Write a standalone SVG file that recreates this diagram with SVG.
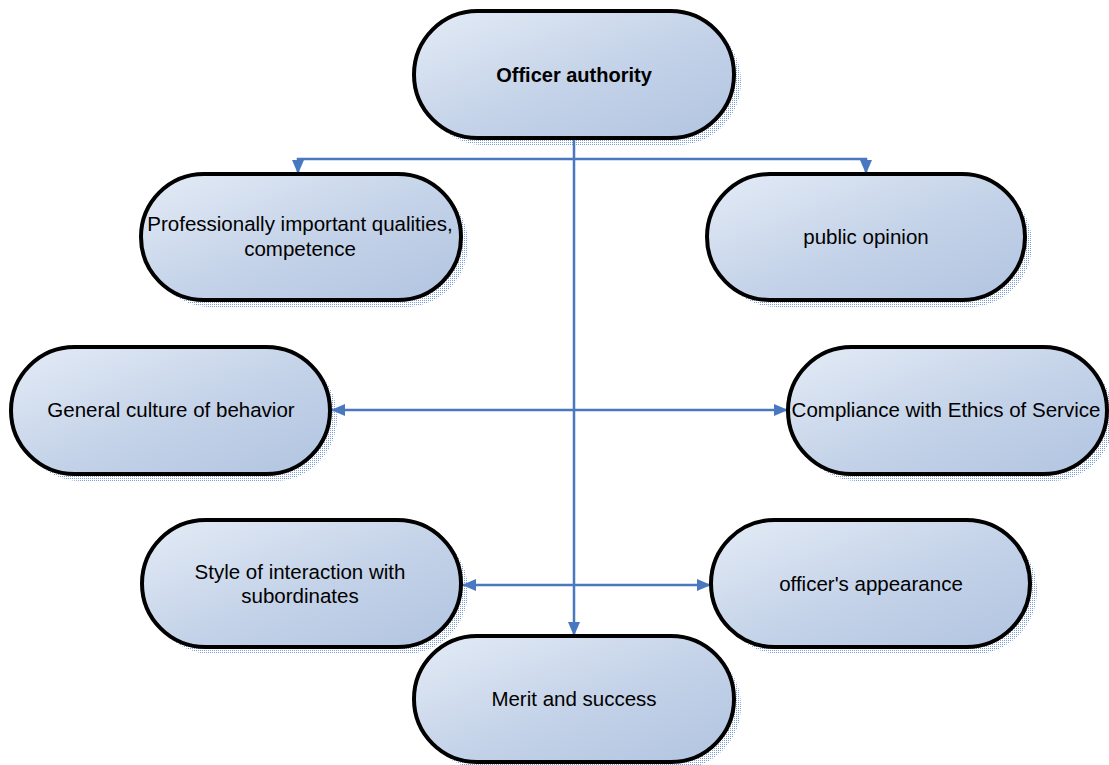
<svg xmlns="http://www.w3.org/2000/svg" width="1109" height="765" viewBox="0 0 1109 765">
<style>
.node{fill:url(#g);stroke:#000;stroke-width:4}
.sh{fill:url(#dots)}
.t{font-family:"Liberation Sans",Arial,sans-serif;font-size:20.5px;fill:#000;text-anchor:middle}
.b{font-weight:bold;font-size:20px}
.c{fill:none;stroke:#4a78c0;stroke-width:2.5}
</style>
<defs>
<linearGradient id="g" x1="0" y1="0" x2="1" y2="1">
<stop offset="0" stop-color="#e4ebf6"/>
<stop offset="0.55" stop-color="#c3d2e8"/>
<stop offset="1" stop-color="#b2c4e1"/>
</linearGradient>
<pattern id="dots" width="2" height="2" patternUnits="userSpaceOnUse">
<rect x="0" y="0" width="1" height="1" fill="#7f9dd2"/>
</pattern>
<marker id="a" markerUnits="userSpaceOnUse" markerWidth="14" markerHeight="12" refX="14" refY="6" orient="auto">
<path d="M0,0 L14,6 L0,12 z" fill="#4a78c0"/>
</marker>
</defs>
<g id="shadows">
<rect class="sh" x="421" y="18" width="320" height="127" rx="63.5"/>
<rect class="sh" x="148" y="181" width="320" height="126" rx="63"/>
<rect class="sh" x="714" y="181" width="318" height="126" rx="63"/>
<rect class="sh" x="18" y="354" width="319" height="127" rx="63.5"/>
<rect class="sh" x="795" y="354" width="319" height="127" rx="63.5"/>
<rect class="sh" x="149" y="527" width="319" height="127" rx="63.5"/>
<rect class="sh" x="718" y="527" width="319" height="127" rx="63.5"/>
<rect class="sh" x="421" y="643" width="320" height="126" rx="63"/>
</g>
<g id="connectors">
<path class="c" d="M574,138 V636" marker-end="url(#a)"/>
<path class="c" d="M574,159 H298 V174" marker-end="url(#a)"/>
<path class="c" d="M574,159 H866 V174" marker-end="url(#a)"/>
<path class="c" d="M574,410 H331" marker-end="url(#a)"/>
<path class="c" d="M574,410 H788" marker-end="url(#a)"/>
<path class="c" d="M574,585 H462" marker-end="url(#a)"/>
<path class="c" d="M574,585 H711" marker-end="url(#a)"/>
</g>
<g id="officer-authority">
<rect class="node" x="414" y="11" width="320" height="127" rx="63.5"/>
<text class="t b" x="574" y="82">Officer authority</text>
</g>
<g id="professional-qualities">
<rect class="node" x="141" y="174" width="320" height="126" rx="63"/>
<text class="t" x="300" y="231">Professionally important qualities,</text>
<text class="t" x="300" y="256">competence</text>
</g>
<g id="public-opinion">
<rect class="node" x="707" y="174" width="318" height="126" rx="63"/>
<text class="t" x="866" y="244">public opinion</text>
</g>
<g id="general-culture">
<rect class="node" x="11" y="347" width="319" height="127" rx="63.5"/>
<text class="t" x="171" y="417">General culture of behavior</text>
</g>
<g id="compliance-ethics">
<rect class="node" x="788" y="347" width="319" height="127" rx="63.5"/>
<text class="t" x="946" y="417">Compliance with Ethics of Service</text>
</g>
<g id="interaction-style">
<rect class="node" x="142" y="520" width="319" height="127" rx="63.5"/>
<text class="t" x="300" y="579">Style of interaction with</text>
<text class="t" x="300" y="603">subordinates</text>
</g>
<g id="officers-appearance">
<rect class="node" x="711" y="520" width="319" height="127" rx="63.5"/>
<text class="t" x="871" y="591">officer's appearance</text>
</g>
<g id="merit-success">
<rect class="node" x="414" y="636" width="320" height="126" rx="63"/>
<text class="t" x="574" y="706">Merit and success</text>
</g>
</svg>
